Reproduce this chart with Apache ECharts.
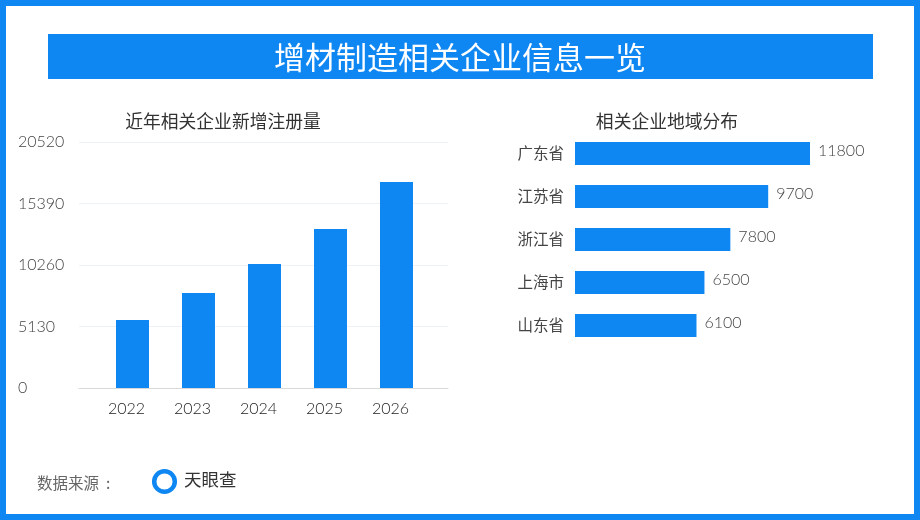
<!DOCTYPE html>
<html>
<head>
<meta charset="utf-8">
<script src="https://cdn.jsdelivr.net/npm/echarts@6/dist/echarts.min.js"></script>
<style>
html,body{margin:0;padding:0;background:#fff}
#main{width:920px;height:520px}
</style>
</head>
<body>
<div id="main"></div>
<script>
var years = ['2022', '2023', '2024', '2025', '2026'];
var newRegs = [5670, 7925, 10340, 13260, 17180];
var provinces = ['广东省', '江苏省', '浙江省', '上海市', '山东省'];
var provinceCounts = [11800, 9700, 7800, 6500, 6100];
var yMax = 20520;
var yStep = 5130;

var blue = '#0f87f2';
var font = '"Noto Sans CJK SC", sans-serif';
var numFont = 'Lato, "Noto Sans CJK SC", sans-serif';

var chart = echarts.init(document.getElementById('main'));
var option = {
    animation: false,
    backgroundColor: '#fff',
    textStyle: {fontFamily: font},
    graphic: [
        {type: 'rect', shape: {x: 3, y: 3, width: 914, height: 514}, style: {fill: 'none', stroke: blue, lineWidth: 6}},
        {type: 'rect', shape: {x: 48, y: 34, width: 825, height: 45}, style: {fill: blue}},
        {type: 'circle', shape: {cx: 164.5, cy: 481.5, r: 10.3}, style: {fill: 'none', stroke: blue, lineWidth: 4.5}, z: 5}
    ],
    title: [
        {text: '增材制造相关企业信息一览', left: 460, top: 57.5, textAlign: 'center', textVerticalAlign: 'middle', padding: 0, z: 10,
            textStyle: {color: '#fff', fontSize: 31, fontWeight: 'normal', fontFamily: font}},
        {text: '近年相关企业新增注册量', left: 223, top: 121, textAlign: 'center', textVerticalAlign: 'middle', padding: 0,
            textStyle: {color: '#333', fontSize: 17.8, fontWeight: 'normal', fontFamily: font}},
        {text: '相关企业地域分布', left: 667, top: 121, textAlign: 'center', textVerticalAlign: 'middle', padding: 0,
            textStyle: {color: '#333', fontSize: 17.8, fontWeight: 'normal', fontFamily: font}},
        {text: '数据来源  :', left: 37, top: 483, textVerticalAlign: 'middle', padding: 0,
            textStyle: {color: '#666', fontSize: 15.5, fontWeight: 'normal', fontFamily: font}},
        {text: '天眼查', left: 184, top: 479, textVerticalAlign: 'middle', padding: 0,
            textStyle: {color: '#333', fontSize: 17.5, fontWeight: 'normal', fontFamily: font}}
    ],
    grid: [
        // wider grid only carries the lines and value labels
        {left: 79, top: 142, width: 369, height: 246},
        {left: 99.5, top: 142, width: 330, height: 246},
        {left: 575, top: 132, width: 239, height: 215}
    ],
    xAxis: [
        {type: 'category', gridIndex: 0, data: years, axisTick: {show: false}, axisLabel: {show: false},
            axisLine: {lineStyle: {color: '#d9d9d9'}}},
        {type: 'category', gridIndex: 1, data: years, axisTick: {show: false}, axisLine: {show: false},
            axisLabel: {color: '#222', fontSize: 16, margin: 13, padding: [0, 12, 0, 0], fontWeight: 300, fontFamily: numFont}},
        {type: 'value', gridIndex: 2, min: 0, max: 12000, show: false}
    ],
    yAxis: [
        {type: 'value', gridIndex: 0, min: 0, max: yMax, interval: yStep, axisLine: {show: false}, axisTick: {show: false},
            axisLabel: {color: '#444', fontSize: 16, align: 'left', margin: 61, padding: [0, 0, 3, 0], fontWeight: 300, fontFamily: numFont,
                formatter: function (v) { return String(v); }},
            splitLine: {lineStyle: {color: '#eef1f6'}}},
        {type: 'value', gridIndex: 1, min: 0, max: yMax, interval: yStep, show: false, splitLine: {show: false}},
        {type: 'category', gridIndex: 2, data: provinces, inverse: true, axisLine: {show: false}, axisTick: {show: false},
            axisLabel: {color: '#444', fontSize: 15.5, margin: 11, fontFamily: font}}
    ],
    series: [
        {type: 'bar', xAxisIndex: 1, yAxisIndex: 1, data: newRegs, barWidth: 33, itemStyle: {color: blue}},
        {type: 'bar', xAxisIndex: 2, yAxisIndex: 2, data: provinceCounts, barWidth: 23, itemStyle: {color: blue},
            label: {show: true, position: 'right', distance: 8, offset: [0, -3], color: '#444', fontSize: 16, fontWeight: 300, fontFamily: numFont}}
    ]
};
chart.setOption(option);
</script>
</body>
</html>
